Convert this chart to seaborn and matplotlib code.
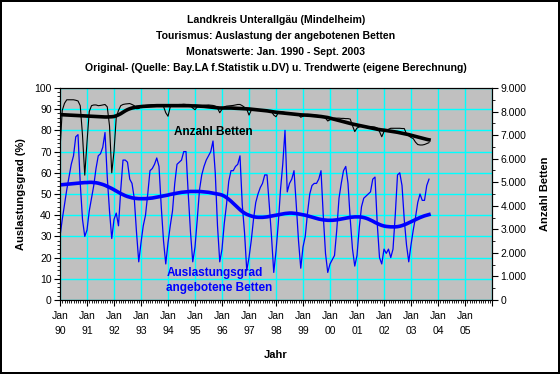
import matplotlib
matplotlib.use('Agg')
import numpy as np
import pandas as pd
import matplotlib.pyplot as plt
import seaborn as sns
from matplotlib.ticker import MultipleLocator, FuncFormatter

plt.rcParams['font.family'] = ['Liberation Sans', 'DejaVu Sans']

# Auslastungsgrad (%) monthly, Jan 1990 - Sept. 2003 (one row per year)
auslastung = [
    30, 38, 45, 52, 58, 64, 68, 77, 78, 55, 38, 30,   # 1990
    33, 42, 48, 54, 62, 68, 69, 72, 79, 58, 42, 29,   # 1991
    38, 41, 35, 52, 66, 66, 65, 57, 55, 48, 32, 18,   # 1992
    27, 35, 40, 50, 61, 62, 64, 67, 63, 44, 28, 17,   # 1993
    27, 35, 42, 55, 64, 65, 66, 70, 70, 50, 32, 18,   # 1994
    25, 38, 52, 59, 63, 66, 68, 70, 75, 60, 35, 18,   # 1995
    24, 36, 45, 56, 61, 61, 63, 64, 68, 45, 32, 14,   # 1996
    20, 28, 38, 46, 50, 53, 55, 59, 59, 45, 30, 13,   # 1997
    23, 36, 52, 64, 80, 51, 55, 57, 61, 45, 28, 15,   # 1998
    25, 30, 41, 50, 54, 55, 55, 57, 61, 40, 22, 13,   # 1999
    17, 19, 21, 33, 48, 55, 61, 63, 55, 38, 24, 16,   # 2000
    21, 34, 44, 48, 49, 50, 51, 57, 58, 36, 20, 17,   # 2001
    24, 22, 24, 20, 24, 40, 59, 60, 54, 38, 26, 18,   # 2002
    26, 33, 39, 46, 50, 47, 47, 54, 57,               # 2003
]

auslastung_trend = [
    54.3, 54.4, 54.5, 54.6, 54.7, 54.8, 54.9, 55.0, 55.1, 55.2, 55.3, 55.4,
    55.4, 55.5, 55.5, 55.4, 55.3, 55.1, 54.8, 54.5, 54.1, 53.6, 53.1, 52.6,
    52.0, 51.4, 50.8, 50.2, 49.7, 49.2, 48.8, 48.5, 48.2, 48.0, 47.9, 47.8,
    47.8, 47.8, 47.8, 47.9, 48.0, 48.1, 48.3, 48.5, 48.7, 48.9, 49.1, 49.3,
    49.5, 49.8, 50.0, 50.2, 50.4, 50.6, 50.8, 50.9, 51.0, 51.1, 51.2, 51.2,
    51.2, 51.2, 51.2, 51.1, 51.0, 50.9, 50.8, 50.6, 50.4, 50.2, 50.0, 49.8,
    49.5, 49.0, 48.3, 47.5, 46.6, 45.6, 44.6, 43.6, 42.6, 41.7, 41.0, 40.4,
    40.0, 39.6, 39.3, 39.1, 39.0, 39.0, 39.0, 39.1, 39.2, 39.4, 39.6, 39.8,
    40.0, 40.2, 40.4, 40.6, 40.8, 40.9, 41.0, 41.0, 40.9, 40.8, 40.6, 40.4,
    40.2, 40.0, 39.7, 39.4, 39.1, 38.8, 38.5, 38.2, 38.0, 37.8, 37.7, 37.6,
    37.6, 37.6, 37.7, 37.8, 38.0, 38.2, 38.4, 38.6, 38.8, 39.0, 39.1, 39.2,
    39.2, 39.2, 39.1, 38.9, 38.6, 38.2, 37.7, 37.2, 36.6, 36.1, 35.6, 35.2,
    34.9, 34.7, 34.6, 34.5, 34.5, 34.5, 34.6, 34.8, 35.1, 35.5, 35.9, 36.4,
    36.9, 37.4, 37.9, 38.4, 38.9, 39.3, 39.7, 40.0, 40.3,
]

# Anzahl angebotene Betten monthly
betten = [
    6400, 8050, 8350, 8500, 8500, 8500, 8500, 8480, 8450, 8250, 7000, 5300,
    6700, 8000, 8250, 8280, 8280, 8250, 8260, 8280, 8300, 8200, 7400, 5400,
    6300, 7750, 8050, 8250, 8300, 8320, 8330, 8340, 8300, 8250, 8120, 8130,
    8200, 8240, 8260, 8270, 8280, 8290, 8290, 8280, 8270, 8250, 8220, 7950,
    7800, 8200, 8250, 8280, 8290, 8300, 8300, 8310, 8300, 8280, 8250, 8150,
    8080, 8200, 8240, 8250, 8260, 8270, 8280, 8270, 8260, 8230, 8150, 7950,
    8100, 8200, 8230, 8240, 8250, 8260, 8280, 8300, 8300, 8250, 8180, 8100,
    7850, 8050, 8100, 8080, 8070, 8060, 8050, 8050, 8040, 8030, 8000, 7850,
    7780, 7950, 8000, 7980, 7960, 7940, 7930, 7920, 7910, 7890, 7870, 7760,
    7800, 7870, 7880, 7870, 7860, 7850, 7840, 7830, 7820, 7790, 7720, 7600,
    7650, 7700, 7720, 7720, 7720, 7710, 7710, 7700, 7700, 7680, 7400, 7150,
    7300, 7350, 7380, 7380, 7370, 7360, 7360, 7350, 7340, 7300, 7150, 6930,
    7150, 7200, 7250, 7290, 7290, 7290, 7290, 7290, 7280, 7280, 7050, 6970,
    6900, 6850, 6700, 6600, 6580, 6580, 6600, 6640, 6680,
]

betten_trend = [
    7870, 7865, 7860, 7855, 7850, 7845, 7840, 7835, 7830, 7825, 7820, 7815,
    7810, 7805, 7800, 7795, 7790, 7785, 7780, 7775, 7770, 7770, 7775, 7780,
    7790, 7820, 7860, 7910, 7970, 8030, 8080, 8120, 8150, 8170, 8190, 8200,
    8210, 8220, 8225, 8230, 8235, 8240, 8245, 8250, 8250, 8250, 8250, 8250,
    8250, 8250, 8250, 8250, 8250, 8250, 8250, 8250, 8250, 8250, 8245, 8240,
    8240, 8235, 8230, 8225, 8220, 8210, 8200, 8190, 8180, 8170, 8160, 8150,
    8150, 8150, 8150, 8150, 8150, 8145, 8140, 8135, 8130, 8125, 8120, 8115,
    8110, 8100, 8090, 8080, 8070, 8060, 8050, 8040, 8030, 8015, 8000, 7985,
    7970, 7960, 7950, 7940, 7930, 7920, 7910, 7900, 7890, 7880, 7870, 7860,
    7855, 7850, 7845, 7840, 7830, 7820, 7810, 7800, 7790, 7775, 7760, 7745,
    7720, 7695, 7670, 7645, 7620, 7595, 7570, 7545, 7520, 7495, 7470, 7450,
    7430, 7410, 7390, 7370, 7350, 7330, 7310, 7290, 7270, 7250, 7235, 7220,
    7210, 7195, 7180, 7165, 7150, 7135, 7120, 7100, 7080, 7060, 7040, 7020,
    6995, 6970, 6945, 6920, 6895, 6870, 6845, 6820, 6800,
]

jahre = ['90', '91', '92', '93', '94', '95', '96', '97', '98', '99',
         '00', '01', '02', '03', '04', '05']

title_lines = [
    'Landkreis Unterallgäu (Mindelheim)',
    'Tourismus: Auslastung der angebotenen Betten',
    'Monatswerte: Jan. 1990 - Sept. 2003',
    'Original- (Quelle: Bay.LA f.Statistik u.DV) u. Trendwerte (eigene Berechnung)',
]

df = pd.DataFrame({
    'monat': np.arange(len(auslastung)),
    'auslastung': auslastung,
    'auslastung_trend': auslastung_trend,
    'betten': betten,
    'betten_trend': betten_trend,
})

W, H = 560, 374
fig = plt.figure(figsize=(W / 100, H / 100), dpi=100)
fig.patch.set_facecolor('white')
fig.patch.set_edgecolor('black')
fig.patch.set_linewidth(1.5)

ax = fig.add_axes([60 / W, 74 / H, 432 / W, 212 / H])
ax.set_facecolor('#C0C0C0')
ax2 = ax.twinx()

# occupancy (left axis)
sns.lineplot(data=df, x='monat', y='auslastung', ax=ax, color='#0000FF', linewidth=0.9)
sns.lineplot(data=df, x='monat', y='auslastung_trend', ax=ax, color='#0000FF', linewidth=2.6)
# beds (right axis)
sns.lineplot(data=df, x='monat', y='betten', ax=ax2, color='black', linewidth=0.8)
sns.lineplot(data=df, x='monat', y='betten_trend', ax=ax2, color='black', linewidth=2.6)

ax.set_xlim(0, 192)
ax.set_ylim(0, 100)
ax2.set_ylim(0, 9000)

# grid
ax.set_axisbelow(True)
ax.grid(True, which='major', color='#00FFFF', linewidth=1.0)
ax.xaxis.set_minor_locator(MultipleLocator(1))
ax.yaxis.set_major_locator(MultipleLocator(10))
ax.yaxis.set_minor_locator(MultipleLocator(2))
ax.set_xticks(np.arange(0, 193, 12))
ax.set_xticklabels(['Jan\n' + j for j in jahre] + [''], linespacing=1.6)

ax2.yaxis.set_major_locator(MultipleLocator(1000))
ax2.yaxis.set_minor_locator(MultipleLocator(500))
ax2.yaxis.set_major_formatter(FuncFormatter(lambda v, p: f'{int(v):,}'.replace(',', '.')))

for a in (ax, ax2):
    for s in a.spines.values():
        s.set_color('black')
        s.set_linewidth(0.8)
ax.tick_params(which='major', length=4, width=0.8, labelsize=7.5, color='black', pad=2)
ax.tick_params(which='minor', length=2, width=0.6, color='black')
ax.tick_params(axis='x', which='major', pad=4, labelsize=7.5)
ax2.tick_params(which='major', length=4, width=0.8, labelsize=7.5, pad=2)
ax2.tick_params(which='minor', length=2, width=0.6)

ax.set_xlabel('Jahr', fontsize=8, fontweight='bold', labelpad=10)
ax.set_ylabel('Auslastungsgrad (%)', fontsize=8, fontweight='bold', labelpad=6)
ax2.set_ylabel('Anzahl Betten', fontsize=8, fontweight='bold', labelpad=10)

# series labels inside plot
ax.text(50.5, 79.2, 'Anzahl Betten', color='black', fontsize=8.5, fontweight='bold',
        ha='left', va='center')
ax.text(47.3, 12.7, 'Auslastungsgrad', color='#0000FF', fontsize=8.5, fontweight='bold',
        ha='left', va='center')
ax.text(47.3, 5.5, 'angebotene Betten', color='#0000FF', fontsize=8.5, fontweight='bold',
        ha='left', va='center')

for i, line in enumerate(title_lines):
    fig.text(276 / W, 1 - (20 + 16 * i) / H, line, ha='center', va='center',
             fontsize=7.6, fontweight='bold')

fig.savefig('out.png', dpi=100)
